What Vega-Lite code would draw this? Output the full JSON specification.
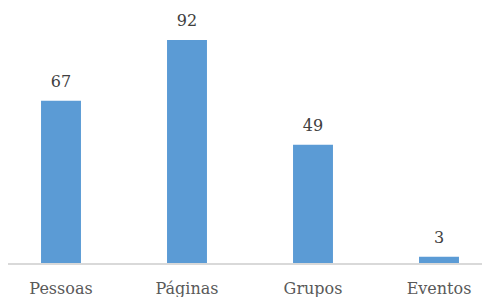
{
  "$schema": "https://vega.github.io/schema/vega-lite/v6.json",
  "autosize": {"type": "none"},
  "width": 474,
  "height": 224,
  "padding": {"left": 8, "top": 40, "right": 0, "bottom": 33},
  "background": "white",
  "config": {"view": {"stroke": null}, "font": "DejaVu Serif"},
  "data": {"values": [
    {"categoria": "Pessoas", "valor": 67},
    {"categoria": "Páginas", "valor": 92},
    {"categoria": "Grupos", "valor": 49},
    {"categoria": "Eventos", "valor": 3}
  ]},
  "encoding": {
    "x": {"field": "categoria", "type": "nominal", "sort": null,
      "scale": {"range": [-10, 494], "paddingInner": 0.683, "paddingOuter": 0.3415},
      "axis": {"title": null, "domain": false, "ticks": false, "labelAngle": 0,
        "labelFont": "DejaVu Serif", "labelFontSize": 16, "labelColor": "#595959", "labelPadding": 16}},
    "y": {"field": "valor", "type": "quantitative", "scale": {"domain": [0, 92], "nice": false},
      "axis": null}
  },
  "layer": [
    {"mark": {"type": "bar", "color": "#5B9BD5"}},
    {"mark": {"type": "rule", "color": "#D9D9D9", "strokeWidth": 1.5},
     "encoding": {"x": null, "y": {"datum": 0}}},
    {"mark": {"type": "text", "dy": -14, "baseline": "alphabetic", "font": "DejaVu Serif", "fontSize": 16, "color": "#404040"},
     "encoding": {"text": {"field": "valor", "type": "quantitative"}}}
  ]
}
